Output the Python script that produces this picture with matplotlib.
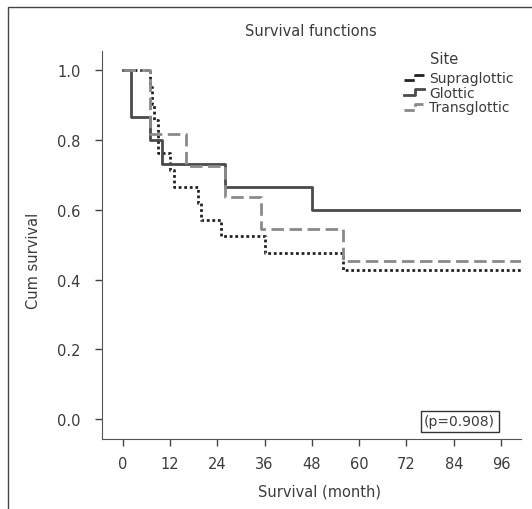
import matplotlib
matplotlib.use("Agg")
import matplotlib.pyplot as plt
from matplotlib.lines import Line2D
from matplotlib.patches import Rectangle
from matplotlib.legend_handler import HandlerBase

# Kaplan-Meier curves (month, cumulative survival after the step)
supra_t = [0, 7, 7.5, 8, 9, 12, 13, 19, 20, 25, 36, 56, 101]
supra_s = [1.0, 0.952, 0.905, 0.857, 0.762, 0.714, 0.667, 0.619, 0.571, 0.524, 0.476, 0.429, 0.429]

glot_t = [0, 2, 7, 10, 26, 48, 101]
glot_s = [1.0, 0.867, 0.800, 0.733, 0.667, 0.600, 0.600]

trans_t = [0, 7, 16, 26, 35, 56, 101]
trans_s = [1.0, 0.818, 0.727, 0.636, 0.545, 0.455, 0.455]

site_labels = ["Supraglottic", "Glottic", "Transglottic"]
x_ticks = [0, 12, 24, 36, 48, 60, 72, 84, 96]
y_ticks = [0.0, 0.2, 0.4, 0.6, 0.8, 1.0]
p_text = "(p=0.908)"

txt = "#3c3c3c"
plt.rcParams["font.family"] = ["DejaVu Sans"]
plt.rcParams["font.size"] = 10


class StepHandler(HandlerBase):
    # small staircase icon like the SPSS legend
    def create_artists(self, legend, orig, xdescent, ydescent, width, height, fontsize, trans):
        x0 = -xdescent
        y0 = -ydescent
        xs = [x0, x0 + width * 0.55, x0 + width * 0.55, x0 + width]
        ys = [y0 + height * 0.2, y0 + height * 0.2, y0 + height * 0.75, y0 + height * 0.75]
        ln = Line2D(xs, ys, color=orig.get_color(), linestyle=orig.get_linestyle(),
                    linewidth=orig.get_linewidth(), transform=trans)
        return [ln]


fig = plt.figure(figsize=(5.32, 5.10), dpi=100)
ax = fig.add_axes([0.191, 0.137, 0.788, 0.762])

l1, = ax.step(supra_t, supra_s, where="post", color="#222222", lw=2.0,
              linestyle=(0, (1, 1)), label=site_labels[0])
l2, = ax.step(glot_t, glot_s, where="post", color="#4a4a4a", lw=2.0,
              linestyle="-", label=site_labels[1])
l3, = ax.step(trans_t, trans_s, where="post", color="#8a8a8a", lw=2.0,
              linestyle=(0, (4.5, 2)), label=site_labels[2])

ax.set_xlim(-5.33, 101)
ax.set_ylim(-0.057, 1.057)
ax.set_xticks(x_ticks)
ax.set_yticks(y_ticks)
ax.set_yticklabels([f"{v:.1f}" for v in y_ticks])
ax.tick_params(axis="both", colors="#444444", labelcolor=txt, length=5, width=1,
               labelsize=10.5)
ax.tick_params(axis="y", pad=10)
ax.tick_params(axis="x", pad=7)

for side in ["top", "right"]:
    ax.spines[side].set_visible(False)
for side in ["left", "bottom"]:
    ax.spines[side].set_color("#555555")

ax.set_xlabel("Survival (month)", color=txt, fontsize=10.5)
ax.xaxis.set_label_coords(0.52, -0.115)
ax.set_ylabel("Cum survival", color=txt, fontsize=10.5)
ax.yaxis.set_label_coords(-0.145, 0.46)

fig.text(311 / 532, 1 - 31 / 510, "Survival functions", ha="center", va="center",
         color=txt, fontsize=10.5)

leg = ax.legend(handles=[l1, l2, l3], handler_map={Line2D: StepHandler()},
                loc="upper left", bbox_to_anchor=(0.705, 0.965), frameon=False,
                handlelength=1.4, handletextpad=0.4, labelspacing=0.05,
                borderpad=0, fontsize=10)
for t in leg.get_texts():
    t.set_color(txt)
fig.text(430 / 532, 1 - 60 / 510, "Site", ha="left", va="center", color=txt,
         fontsize=10.5)

ax.text(85.5, -0.006, p_text, ha="center", va="center", color=txt, fontsize=10,
        bbox=dict(boxstyle="square,pad=0.25", fc="white", ec="#333333", lw=1))

# outer frame that is cut off at the right and bottom edges
fig.patches.append(Rectangle((8 / 532, -0.1), 1.2, 1 - 8 / 510 + 0.1,
                             transform=fig.transFigure, fill=False,
                             ec="#444444", lw=1))

fig.savefig("out.png", dpi=100)
